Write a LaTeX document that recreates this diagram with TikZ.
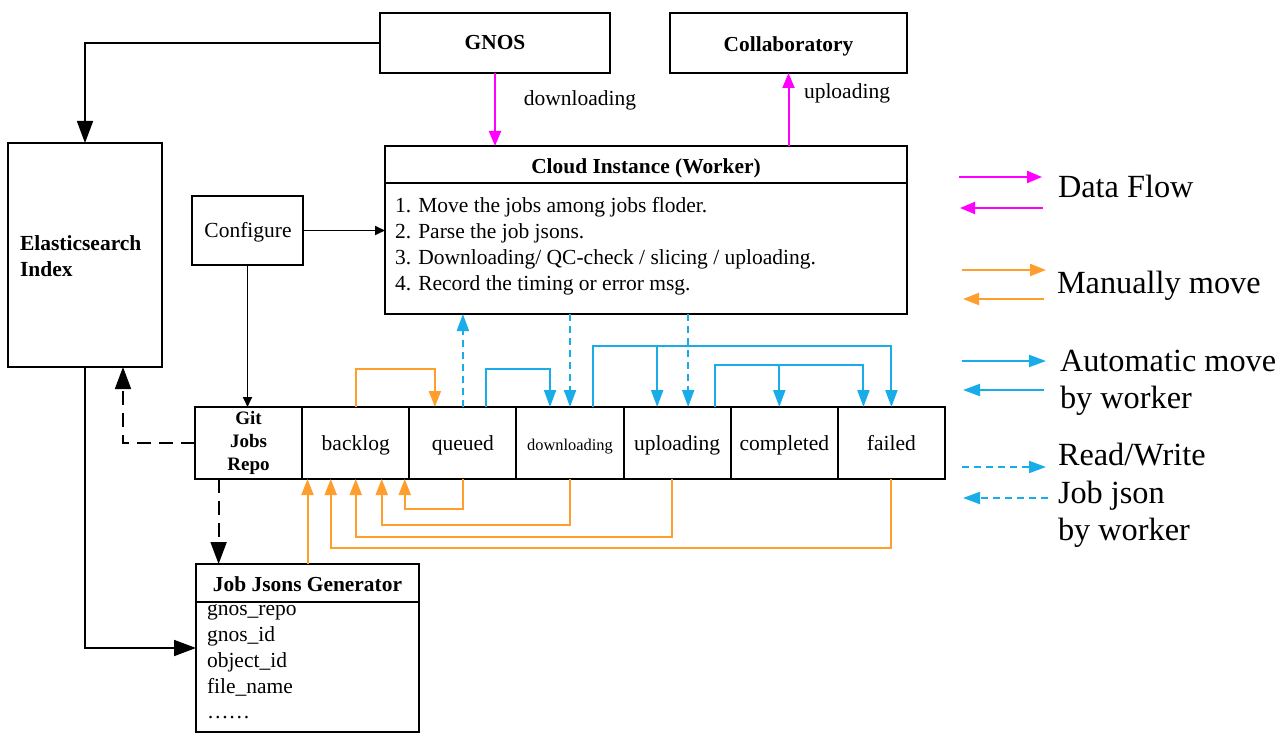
\documentclass[tikz,border=0pt]{standalone}
\usepackage{fontspec}
\setmainfont{Liberation Serif}
\usetikzlibrary{arrows.meta,positioning}
\definecolor{flowmagenta}{RGB}{255,0,255}
\definecolor{manualorange}{RGB}{255,158,44}
\definecolor{autoblue}{RGB}{24,172,232}
\begin{document}
\begin{tikzpicture}[x=1pt,y=-1pt,
    every node/.style={inner sep=0pt,outer sep=0pt,font=\fontsize{21.5}{26}\selectfont},
    head/.style={font=\fontsize{21.4}{26}\selectfont\bfseries},
    box/.style={draw,line width=2pt},
    cell/.style={box,minimum width=107.14pt,minimum height=72pt},
    folder/.style={cell,text height=18pt,text depth=4pt},
    legend/.style={anchor=base west,font=\fontsize{32.3}{38}\selectfont},
    link/.style={line width=1.8pt},
    bigtip/.style={-{Triangle[length=22pt,width=16pt]}},
    smalltip/.style={-{Triangle[length=10pt,width=9pt]}},
    flow/.style={draw=flowmagenta,line width=2pt,-{Triangle[length=15pt,width=12pt]}},
    manual/.style={draw=manualorange,line width=2pt,-{Triangle[length=16pt,width=12pt]}},
    automove/.style={draw=autoblue,line width=2pt,-{Triangle[length=17pt,width=12pt]}},
    readwrite/.style={automove,dash pattern=on 7pt off 5pt},
    jsondash/.style={dash pattern=on 14pt off 8pt}]
    \useasboundingbox (0,0) rectangle (1282,738);

    % boxes
    \node[box,head,minimum width=230pt,minimum height=60pt] (gnos) at (495,43) {GNOS};
    \node[box,minimum width=237pt,minimum height=60pt] (collab) at (788.5,43) {};
    \node[head] (collabtext) at (788.5,46) {Collaboratory};
    \node[box,minimum width=522pt,minimum height=168pt] (cloud) at (646,230) {};
    \node[box,minimum width=111pt,minimum height=69pt] (configure) at (247.5,230.5) {};
    \node (configtext) at (248,232.5) {Configure};
    \node[box,minimum width=154pt,minimum height=224pt] (elastic) at (85,255) {};
    \node[box,minimum width=223pt,minimum height=168pt] (generator) at (307.5,648) {};

    \node[head] (cloudtitle) at (646,168) {Cloud Instance (Worker)};
    \draw[line width=2pt] (cloud.west |- 0,183) -- (cloud.east |- 0,183);
    \node[anchor=base west] (step1) at (395,212) {1. Move the jobs among jobs floder.};
    \node[anchor=base west] (step2) at (395,238) {2. Parse the job jsons.};
    \node[anchor=base west] (step3) at (395,264) {3. Downloading/ QC-check / slicing / uploading.};
    \node[anchor=base west] (step4) at (395,290) {4. Record the timing or error msg.};

    \node[anchor=west,align=left,font=\fontsize{21.5}{26}\selectfont\bfseries] (elastictext) at (20,256) {Elasticsearch\\Index};

    \node[head] (gentitle) at (307.5,584) {Job Jsons Generator};
    \draw[line width=2pt] (generator.west |- 0,602) -- (generator.east |- 0,602);
    \node[anchor=base west] (field1) at (207,615) {gnos\_repo};
    \node[anchor=base west] (field2) at (207,641) {gnos\_id};
    \node[anchor=base west] (field3) at (207,667) {object\_id};
    \node[anchor=base west] (field4) at (207,693) {file\_name};
    \node[anchor=base west] (field5) at (207,718) {……};

    % jobs folders
    \node[cell,align=center,font=\fontsize{19}{23}\selectfont\bfseries] (repo) at (248.6,443) {Git\\Jobs\\Repo};
    \node[folder,right=0pt of repo] (backlog) {backlog};
    \node[folder,right=0pt of backlog] (queued) {queued};
    \node[folder,right=0pt of queued,font=\fontsize{16.4}{20}\selectfont] (downloading) {downloading};
    \node[folder,right=0pt of downloading] (uploading) {uploading};
    \node[folder,right=0pt of uploading] (completed) {completed};
    \node[folder,right=0pt of completed] (failed) {failed};

    % black links
    \draw[link,bigtip] (gnos.west) -| (elastic.north);
    \draw[link,bigtip] (elastic.south) |- (generator.west);
    \draw[link,bigtip,jsondash] (repo.west) -| ([xshift=38pt]elastic.south);
    \draw[link,bigtip,jsondash] ([xshift=-30pt]repo.south) -- ([xshift=-30pt]repo.south |- generator.north);
    \draw[link,smalltip] (configure.east) -- (configure.east -| cloud.west);
    \draw[link,smalltip] (configure.south) -- (configure.south |- repo.north);

    % data flow
    \draw[flow] (gnos.south) -- (gnos.south |- cloud.north);
    \draw[flow] (collab.south |- cloud.north) -- (collab.south);
    \node (downlabel) at (580,100) {downloading};
    \node (uplabel) at (847,93) {uploading};

    % moves above the folders
    \draw[manual] (backlog.north) -- ++(0,-38) -| ([xshift=-28pt]queued.north);
    \draw[automove] ([xshift=23pt]queued.north) -- ++(0,-38) -| ([xshift=-20pt]downloading.north);
    \draw[automove] ([xshift=23pt]downloading.north) -- ++(0,-61) -| (failed.north);
    \draw[automove] ([xshift=-20pt]uploading.north) ++(0,-61) -- ([xshift=-20pt]uploading.north);
    \draw[automove] ([xshift=38pt]uploading.north) -- ++(0,-42) -| ([xshift=-28pt]failed.north);
    \draw[automove] ([xshift=-5pt]completed.north) ++(0,-42) -- ([xshift=-5pt]completed.north);
    \draw[readwrite] (queued.north) -- (queued.north |- cloud.south);
    \draw[readwrite] (downloading.north |- cloud.south) -- (downloading.north);
    \draw[readwrite] ([xshift=11pt]uploading.north |- cloud.south) -- ([xshift=11pt]uploading.north);

    % moves below the folders
    \draw[manual] (queued.south) -- ++(0,30) -| ([xshift=49pt]backlog.south);
    \draw[manual] (downloading.south) -- ++(0,46) -| ([xshift=26pt]backlog.south);
    \draw[manual] ([xshift=-5pt]uploading.south) -- ++(0,58) -| (backlog.south);
    \draw[manual] (failed.south) -- ++(0,69) -| ([xshift=-25pt]backlog.south);
    \draw[manual] (generator.north) -- (generator.north |- backlog.south);

    % legend
    \draw[flow] (959,177) -- (1042,177);
    \draw[flow] (1043,208) -- (960,208);
    \node[legend] (legflow) at (1058,198) {Data Flow};
    \draw[manual] (962,270) -- (1046,270);
    \draw[manual] (1044,299) -- (963,299);
    \node[legend] (legmanual) at (1057,293) {Manually move};
    \draw[automove] (962,361) -- (1046,361);
    \draw[automove] (1044,390) -- (963,390);
    \node[legend] (legauto) at (1060,371) {Automatic move};
    \node[legend] (legautoby) at (1060,408) {by worker};
    \draw[readwrite] (962,467) -- (1046,467);
    \draw[readwrite] (1048,498) -- (963,498);
    \node[legend] (legrw) at (1058,465) {Read/Write};
    \node[legend] (legrwjob) at (1058,503) {Job json};
    \node[legend] (legrwby) at (1058,540) {by worker};
\end{tikzpicture}
\end{document}
